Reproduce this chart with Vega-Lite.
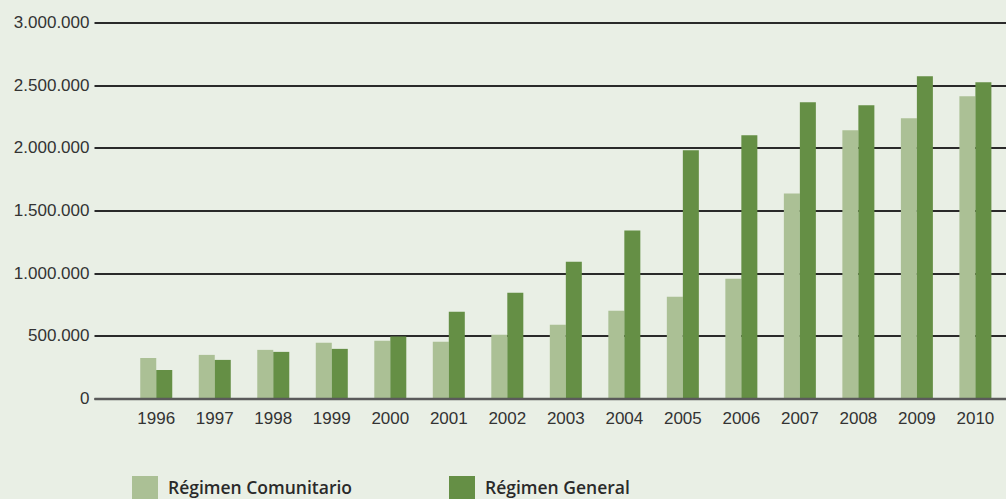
{
  "$schema": "https://vega.github.io/schema/vega-lite/v6.json",
  "width": 912,
  "height": 376,
  "autosize": {"type": "none"},
  "padding": {"left": 94, "top": 22.5, "right": 0, "bottom": 100.5},
  "background": "#e9efe5",
  "data": {
    "values": [
      {"year": "1996", "regime": "Régimen Comunitario", "value": 324000},
      {"year": "1996", "regime": "Régimen General", "value": 228000},
      {"year": "1997", "regime": "Régimen Comunitario", "value": 348000},
      {"year": "1997", "regime": "Régimen General", "value": 308000},
      {"year": "1998", "regime": "Régimen Comunitario", "value": 388000},
      {"year": "1998", "regime": "Régimen General", "value": 372000},
      {"year": "1999", "regime": "Régimen Comunitario", "value": 444000},
      {"year": "1999", "regime": "Régimen General", "value": 396000},
      {"year": "2000", "regime": "Régimen Comunitario", "value": 460000},
      {"year": "2000", "regime": "Régimen General", "value": 494000},
      {"year": "2001", "regime": "Régimen Comunitario", "value": 452000},
      {"year": "2001", "regime": "Régimen General", "value": 692000},
      {"year": "2002", "regime": "Régimen Comunitario", "value": 508000},
      {"year": "2002", "regime": "Régimen General", "value": 844000},
      {"year": "2003", "regime": "Régimen Comunitario", "value": 588000},
      {"year": "2003", "regime": "Régimen General", "value": 1092000},
      {"year": "2004", "regime": "Régimen Comunitario", "value": 700000},
      {"year": "2004", "regime": "Régimen General", "value": 1340000},
      {"year": "2005", "regime": "Régimen Comunitario", "value": 812000},
      {"year": "2005", "regime": "Régimen General", "value": 1980000},
      {"year": "2006", "regime": "Régimen Comunitario", "value": 956000},
      {"year": "2006", "regime": "Régimen General", "value": 2100000},
      {"year": "2007", "regime": "Régimen Comunitario", "value": 1636000},
      {"year": "2007", "regime": "Régimen General", "value": 2364000},
      {"year": "2008", "regime": "Régimen Comunitario", "value": 2140000},
      {"year": "2008", "regime": "Régimen General", "value": 2340000},
      {"year": "2009", "regime": "Régimen Comunitario", "value": 2236000},
      {"year": "2009", "regime": "Régimen General", "value": 2572000},
      {"year": "2010", "regime": "Régimen Comunitario", "value": 2412000},
      {"year": "2010", "regime": "Régimen General", "value": 2524000}
    ]
  },
  "mark": {"type": "bar"},
  "encoding": {
    "x": {
      "field": "year",
      "type": "nominal",
      "scale": {"paddingInner": 0.453, "paddingOuter": 0.52, "align": 0.76},
      "axis": {
        "title": null,
        "labelAngle": 0,
        "ticks": false,
        "labelPadding": 12,
        "labelFont": "Liberation Sans",
        "labelFontSize": 17,
        "labelColor": "#333333",
        "domainColor": "#5a5a5a",
        "domainWidth": 2.5,
        "zindex": 1
      }
    },
    "xOffset": {"field": "regime", "type": "nominal", "sort": ["Régimen Comunitario", "Régimen General"]},
    "y": {
      "field": "value",
      "type": "quantitative",
      "scale": {"domain": [0, 3000000], "nice": false},
      "axis": {
        "title": null,
        "values": [0, 500000, 1000000, 1500000, 2000000, 2500000, 3000000],
        "labelExpr": "replace(format(datum.value, ','), regexp(',', 'g'), '.')",
        "ticks": false,
        "domain": false,
        "labelPadding": 5,
        "labelFont": "Liberation Sans",
        "labelFontSize": 17,
        "labelColor": "#333333",
        "grid": true,
        "gridColor": "#2a2a2a",
        "gridWidth": 1.8
      }
    },
    "color": {
      "field": "regime",
      "type": "nominal",
      "sort": ["Régimen Comunitario", "Régimen General"],
      "scale": {"domain": ["Régimen Comunitario", "Régimen General"], "range": ["#abc095", "#658f45"]},
      "legend": {
        "title": null,
        "orient": "none",
        "direction": "horizontal",
        "legendX": 38,
        "legendY": 453.5,
        "padding": 0,
        "symbolType": "square",
        "symbolSize": 676,
        "symbolStrokeWidth": 0,
        "symbolOpacity": 1,
        "labelOffset": 10,
        "columnPadding": 96,
        "labelFont": "Open Sans",
        "labelFontWeight": 600,
        "labelFontSize": 17.5,
        "labelColor": "#2a2a2a",
        "labelLimit": 400
      }
    }
  },
  "config": {
    "view": {"stroke": null}
  }
}
